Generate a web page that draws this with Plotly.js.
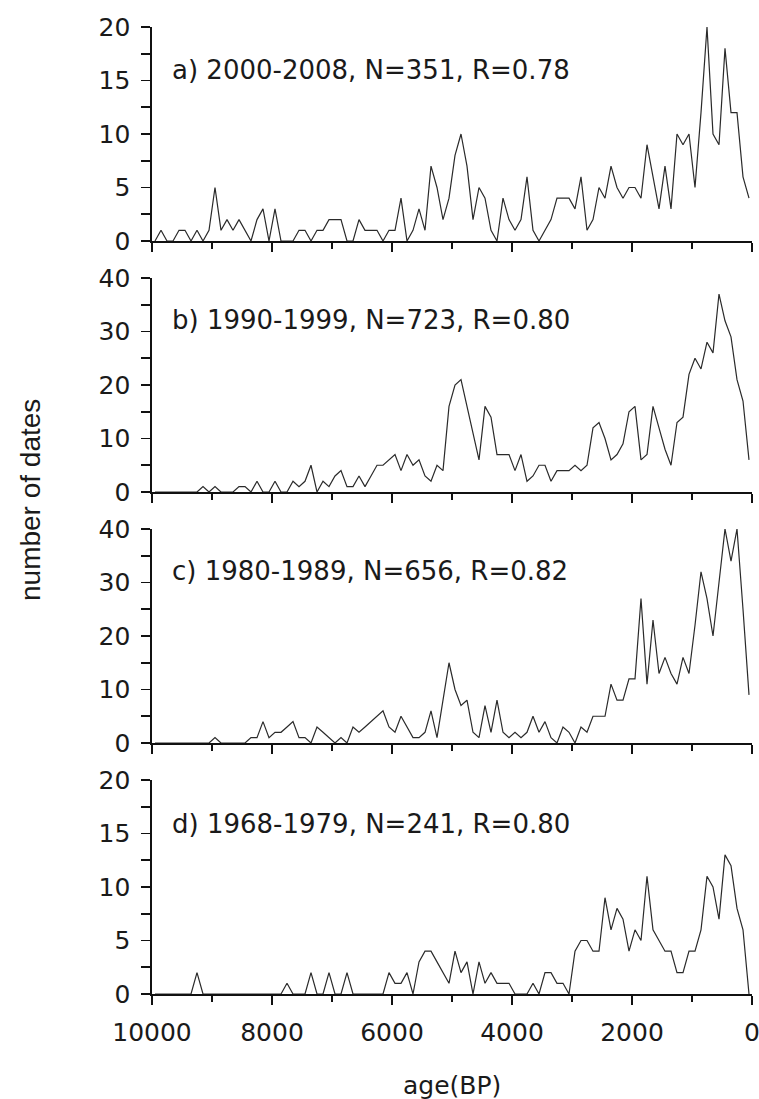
<!DOCTYPE html>
<html>
<head>
<meta charset="utf-8">
<script src="https://cdn.plot.ly/plotly-3.0.1.min.js"></script>
<style>
  html, body { margin: 0; padding: 0; background: #fff; }
  #chart { width: 759px; height: 1099px; }
</style>
</head>
<body>
<div id="chart"></div>
<script>
// Age bin centres (years BP), oldest to youngest
const ages = [9950,9850,9750,9650,9550,9450,9350,9250,9150,9050,
              8950,8850,8750,8650,8550,8450,8350,8250,8150,8050,
              7950,7850,7750,7650,7550,7450,7350,7250,7150,7050,
              6950,6850,6750,6650,6550,6450,6350,6250,6150,6050,
              5950,5850,5750,5650,5550,5450,5350,5250,5150,5050,
              4950,4850,4750,4650,4550,4450,4350,4250,4150,4050,
              3950,3850,3750,3650,3550,3450,3350,3250,3150,3050,
              2950,2850,2750,2650,2550,2450,2350,2250,2150,2050,
              1950,1850,1750,1650,1550,1450,1350,1250,1150,1050,
              950,850,750,650,550,450,350,250,150,50];

// a) 2000-2008
const countsA = [0,1,0,0,1,1,0,1,0,1,
                 5,1,2,1,2,1,0,2,3,0,
                 3,0,0,0,1,1,0,1,1,2,
                 2,2,0,0,2,1,1,1,0,1,
                 1,4,0,1,3,1,7,5,2,4,
                 8,10,7,2,5,4,1,0,4,2,
                 1,2,6,1,0,1,2,4,4,4,
                 3,6,1,2,5,4,7,5,4,5,
                 5,4,9,6,3,7,3,10,9,10,
                 5,12,20,10,9,18,12,12,6,4];
// b) 1990-1999
const countsB = [0,0,0,0,0,0,0,0,1,0,
                 1,0,0,0,1,1,0,2,0,0,
                 2,0,0,2,1,2,5,0,2,1,
                 3,4,1,1,3,1,3,5,5,6,
                 7,4,7,5,6,3,2,5,4,16,
                 20,21,16,11,6,16,14,7,7,7,
                 4,7,2,3,5,5,2,4,4,4,
                 5,4,5,12,13,10,6,7,9,15,
                 16,6,7,16,12,8,5,13,14,22,
                 25,23,28,26,37,32,29,21,17,6];
// c) 1980-1989
const countsC = [0,0,0,0,0,0,0,0,0,0,
                 1,0,0,0,0,0,1,1,4,1,
                 2,2,3,4,1,1,0,3,2,1,
                 0,1,0,3,2,3,4,5,6,3,
                 2,5,3,1,1,2,6,1,8,15,
                 10,7,8,2,1,7,2,8,2,1,
                 2,1,2,5,2,4,1,0,3,2,
                 0,3,2,5,5,5,11,8,8,12,
                 12,27,11,23,13,16,13,11,16,13,
                 22,32,27,20,30,40,34,40,25,9];
// d) 1968-1979
const countsD = [0,0,0,0,0,0,0,2,0,0,
                 0,0,0,0,0,0,0,0,0,0,
                 0,0,1,0,0,0,2,0,0,2,
                 0,0,2,0,0,0,0,0,0,2,
                 1,1,2,0,3,4,4,3,2,1,
                 4,2,3,0,3,1,2,1,1,1,
                 0,0,0,1,0,2,2,1,1,0,
                 4,5,5,4,4,9,6,8,7,4,
                 6,5,11,6,5,4,4,2,2,4,
                 4,6,11,10,7,13,12,8,6,0];

const panelLabels = ["a) 2000-2008, N=351, R=0.78",
                     "b) 1990-1999, N=723, R=0.80",
                     "c) 1980-1989, N=656, R=0.82",
                     "d) 1968-1979, N=241, R=0.80"];
const yMax = [20, 40, 40, 20];
const yMajor = [5, 10, 10, 5];
const xTickVals = [10000, 8000, 6000, 4000, 2000, 0];
const xTickText = ["10000", "8000", "6000", "4000", "2000", "0"];
const xTitle = "age(BP)";
const yTitle = "number of dates";

const series = [countsA, countsB, countsC, countsD];
// plot area runs from 27px to 994px (967px); each panel 214px, gap 37px
const H = 967;
const domains = [[753/H, 1], [502/H, 716/H], [251/H, 465/H], [0, 214/H]];

const FONT = "DejaVu Sans, Liberation Sans, Arial, sans-serif";
const traces = series.map((s, i) => ({
  x: ages, y: s, type: 'scatter', mode: 'lines',
  line: {color: '#2a2a2a', width: 1.2},
  xaxis: i === 0 ? 'x' : 'x' + (i + 1),
  yaxis: i === 0 ? 'y' : 'y' + (i + 1),
  hoverinfo: 'x+y'
}));

const layout = {
  width: 759, height: 1099,
  margin: {l: 152, r: 7, t: 27, b: 105, pad: 0},
  paper_bgcolor: '#ffffff', plot_bgcolor: '#ffffff',
  showlegend: false,
  font: {family: FONT, size: 24, color: '#1a1a1a'},
  annotations: []
};

for (let i = 0; i < 4; i++) {
  const sx = i === 0 ? '' : String(i + 1);
  layout['xaxis' + sx] = {
    domain: [0, 1], anchor: 'y' + sx,
    range: [10000, 0], autorange: false,
    tickmode: 'array', tickvals: xTickVals, ticktext: xTickText,
    ticks: 'outside', ticklen: 9, tickwidth: 1.6, tickcolor: '#111',
    minor: {dtick: 1000, tick0: 0, ticks: 'outside', ticklen: 6, tickwidth: 1.6, tickcolor: '#111', showgrid: false},
    showline: true, linecolor: '#111', linewidth: 1.6,
    showgrid: false, zeroline: false,
    showticklabels: i === 3,
    ticklabeloverflow: 'allow',
    tickfont: {family: FONT, size: 25, color: '#1a1a1a'},
    ticklabelstandoff: 6
  };
  layout['yaxis' + sx] = {
    domain: domains[i], anchor: 'x' + sx,
    range: [0, yMax[i]], autorange: false,
    tickmode: 'linear', tick0: 0, dtick: yMajor[i],
    ticks: 'outside', ticklen: 9, tickwidth: 1.6, tickcolor: '#111',
    minor: {dtick: yMajor[i] / 2, tick0: 0, ticks: 'outside', ticklen: 9, tickwidth: 1.6, tickcolor: '#111', showgrid: false},
    showline: true, linecolor: '#111', linewidth: 1.6,
    showgrid: false, zeroline: false,
    tickfont: {family: FONT, size: 25, color: '#1a1a1a'},
    ticklabelstandoff: 6
  };
  layout.annotations.push({
    text: panelLabels[i], xref: 'paper', yref: 'paper',
    x: 18/600, y: [(994-70)/H, (994-320)/H, (994-571)/H, (994-824)/H][i],
    xanchor: 'left', yanchor: 'middle', showarrow: false,
    font: {family: FONT, size: 26, color: '#1a1a1a'}
  });
}

layout.annotations.push({
  text: yTitle, xref: 'paper', yref: 'paper',
  x: (30 - 152) / 600, y: (994 - 500) / H,
  xanchor: 'center', yanchor: 'middle', textangle: -90, showarrow: false,
  font: {family: "Liberation Sans, Arial, sans-serif", size: 28, color: '#1a1a1a'}
});
layout.annotations.push({
  text: xTitle, xref: 'paper', yref: 'paper',
  x: 0.5, y: (994 - 1085) / H,
  xanchor: 'center', yanchor: 'middle', showarrow: false,
  font: {family: FONT, size: 25, color: '#1a1a1a'}
});

Plotly.newPlot('chart', traces, layout, {displayModeBar: false, staticPlot: true});
</script>
</body>
</html>
